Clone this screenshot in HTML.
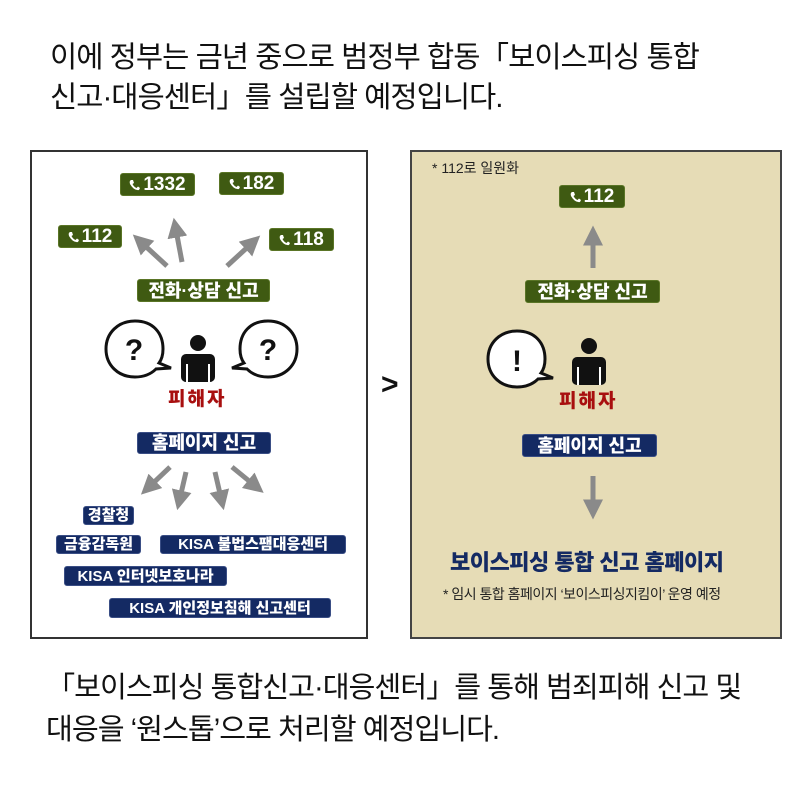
<!DOCTYPE html>
<html><head><meta charset="utf-8"><style>
*{margin:0;padding:0;box-sizing:border-box}
body{width:800px;height:800px;background:#fff;position:relative;overflow:hidden;font-family:"Liberation Sans","Noto Sans CJK KR",sans-serif}
.t{position:absolute;font-size:30px;color:#111;white-space:nowrap;letter-spacing:-1px;line-height:1}
.p{position:absolute}
.b{position:absolute;color:#fff;font-weight:900;white-space:nowrap;display:flex;align-items:center;justify-content:center;border-radius:3px;line-height:1}
.g{background:#3f5a12;border:1px solid #5a7526}
.n{background:#142a63;border:1px solid #3a4e85}
.b svg{margin-right:3px}
.red{position:absolute;color:#a80f0f;font-weight:900;font-size:19px;letter-spacing:2px;white-space:nowrap}
</style></head><body>
<div class="t" style="left:50px;top:43px;font-size:29.6px">이에 정부는 금년 중으로 범정부 합동「보이스피싱 통합</div>
<div class="t" style="left:50px;top:83px;font-size:29.6px">신고·대응센터」를 설립할 예정입니다.</div>
<div class="t" style="left:46px;top:674px;font-size:29.2px">「보이스피싱 통합신고·대응센터」를 통해 범죄피해 신고 및</div>
<div class="t" style="left:46px;top:716px;font-size:29.2px">대응을 ‘원스톱’으로 처리할 예정입니다.</div>

<div class="p" style="left:30px;top:150px;width:338px;height:489px;border:2px solid #333;background:#fff"></div>
<div class="p" style="left:410px;top:150px;width:372px;height:489px;border:2px solid #444;background:#e6dcb6"></div>
<div class="p" style="left:381px;top:368px;font-size:30px;font-weight:900;color:#111">&gt;</div>

<svg class="p" style="left:0;top:0" width="800" height="800">
<defs><marker id="a" markerWidth="4" markerHeight="4" refX="1.5" refY="2" orient="auto"><path d="M0,0L4,2L0,4z" fill="#8a8a8a"/></marker></defs>
<g stroke="#8a8a8a" stroke-width="5" fill="none" marker-end="url(#a)">
<line x1="167" y1="266" x2="142" y2="243"/>
<line x1="182" y1="262" x2="176" y2="230"/>
<line x1="227" y1="266" x2="251" y2="244"/>
<line x1="170" y1="467" x2="150" y2="486"/>
<line x1="186" y1="472" x2="180" y2="498"/>
<line x1="215" y1="472" x2="221" y2="498"/>
<line x1="232" y1="467" x2="254" y2="485"/>
<line x1="593" y1="268" x2="593" y2="238"/>
<line x1="593" y1="476" x2="593" y2="507"/>
</g>
<g stroke="#111" stroke-width="3" fill="#fff">
<path d="M135,321c18,0 28,12 28,28c0,5 -1,10 -4,14l12,5l-15,1c-5,5 -12,8 -21,8c-17,0 -29,-12 -29,-28c0,-16 12,-28 29,-28z"/>
<path d="M268,321c-18,0 -28,12 -28,28c0,5 1,10 4,14l-12,5l15,1c5,5 12,8 21,8c17,0 29,-12 29,-28c0,-16 -12,-28 -29,-28z"/>
<path d="M517,331c18,0 28,12 28,28c0,5 -1,10 -4,14l12,5l-15,1c-5,5 -12,8 -21,8c-17,0 -29,-12 -29,-28c0,-16 12,-28 29,-28z"/>
</g>
<g fill="#111">
<circle cx="198" cy="343" r="8"/><rect x="181" y="354" width="34" height="28" rx="5"/>
<circle cx="589" cy="346" r="8"/><rect x="572" y="357" width="34" height="28" rx="5"/>
</g>
<g fill="#fff"><rect x="186" y="364" width="2" height="18"/><rect x="208" y="364" width="2" height="18"/><rect x="577" y="367" width="2" height="18"/><rect x="599" y="367" width="2" height="18"/></g>
<g font-family="Liberation Sans,sans-serif" font-weight="900" font-size="30" text-anchor="middle" fill="#111">
<text x="134" y="360">?</text><text x="268" y="360">?</text><text x="517" y="371">!</text>
</g>
</svg>

<div class="b g" style="left:120px;top:173px;width:75px;height:23px;font-size:19px"><svg width="11" height="12" viewBox="0 0 11 12"><path d="M2,1L4,1L5,4L3.5,5Q5,8 7.5,9L9,7.5L11,9L10,11Q5,12 1,5Q0,2 2,1z" fill="#fff"/></svg>1332</div>
<div class="b g" style="left:219px;top:172px;width:65px;height:23px;font-size:19px"><svg width="11" height="12" viewBox="0 0 11 12"><path d="M2,1L4,1L5,4L3.5,5Q5,8 7.5,9L9,7.5L11,9L10,11Q5,12 1,5Q0,2 2,1z" fill="#fff"/></svg>182</div>
<div class="b g" style="left:58px;top:225px;width:64px;height:23px;font-size:19px"><svg width="11" height="12" viewBox="0 0 11 12"><path d="M2,1L4,1L5,4L3.5,5Q5,8 7.5,9L9,7.5L11,9L10,11Q5,12 1,5Q0,2 2,1z" fill="#fff"/></svg>112</div>
<div class="b g" style="left:269px;top:228px;width:65px;height:23px;font-size:19px"><svg width="11" height="12" viewBox="0 0 11 12"><path d="M2,1L4,1L5,4L3.5,5Q5,8 7.5,9L9,7.5L11,9L10,11Q5,12 1,5Q0,2 2,1z" fill="#fff"/></svg>118</div>
<div class="b g" style="left:137px;top:279px;width:133px;height:23px;font-size:18px">전화·상담 신고</div>
<div class="red" style="left:168px;top:384px">피해자</div>
<div class="b n" style="left:137px;top:432px;width:134px;height:22px;font-size:18px">홈페이지 신고</div>
<div class="b n" style="left:83px;top:506px;width:51px;height:19px;font-size:15px">경찰청</div>
<div class="b n" style="left:56px;top:535px;width:85px;height:19px;font-size:15px">금융감독원</div>
<div class="b n" style="left:160px;top:535px;width:186px;height:19px;font-size:15px">KISA 불법스팸대응센터</div>
<div class="b n" style="left:64px;top:566px;width:163px;height:20px;font-size:15px">KISA 인터넷보호나라</div>
<div class="b n" style="left:109px;top:598px;width:222px;height:20px;font-size:15px">KISA 개인정보침해 신고센터</div>

<div class="p" style="left:432px;top:158px;font-size:14px;color:#222;white-space:nowrap">* 112로 일원화</div>
<div class="b g" style="left:559px;top:185px;width:66px;height:23px;font-size:19px"><svg width="11" height="12" viewBox="0 0 11 12"><path d="M2,1L4,1L5,4L3.5,5Q5,8 7.5,9L9,7.5L11,9L10,11Q5,12 1,5Q0,2 2,1z" fill="#fff"/></svg>112</div>
<div class="b g" style="left:525px;top:280px;width:135px;height:23px;font-size:18px">전화·상담 신고</div>
<div class="red" style="left:559px;top:386px">피해자</div>
<div class="b n" style="left:522px;top:434px;width:135px;height:23px;font-size:18px">홈페이지 신고</div>
<div class="p" style="left:450px;top:545px;font-size:22px;font-weight:900;color:#142a63;white-space:nowrap;letter-spacing:-0.5px">보이스피싱 통합 신고 홈페이지</div>
<div class="p" style="left:443px;top:584px;font-size:14px;color:#222;white-space:nowrap;letter-spacing:-0.5px">* 임시 통합 홈페이지 ‘보이스피싱지킴이’ 운영 예정</div>
</body></html>
